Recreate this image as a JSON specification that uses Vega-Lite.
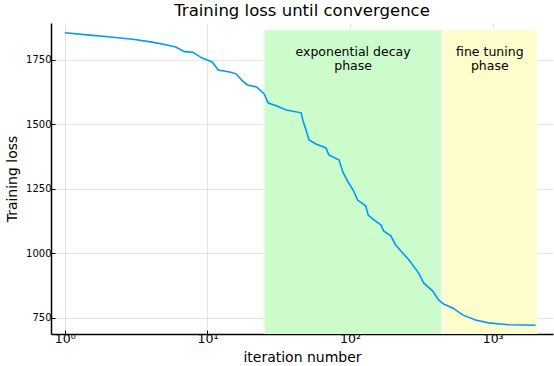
{
  "$schema": "https://vega.github.io/schema/vega-lite/v6.json",
  "width": 502,
  "height": 311,
  "autosize": {"type": "none"},
  "padding": {"left": 51, "top": 23, "right": 1, "bottom": 32},
  "background": "white",
  "config": {
    "font": "DejaVu Sans",
    "view": {"stroke": null},
    "axis": {"labelFont": "DejaVu Sans", "titleFont": "DejaVu Sans", "titleFontWeight": "normal", "labelColor": "#000000", "titleColor": "#000000"}
  },
  "title": {"text": "Training loss until convergence", "fontSize": 16.5, "fontWeight": "normal", "font": "DejaVu Sans", "color": "#000000", "offset": 4, "anchor": "middle"},
  "datasets": {
    "loss": [
      {"iter": 1, "loss": 1855},
      {"iter": 1.5, "loss": 1846},
      {"iter": 2, "loss": 1840},
      {"iter": 3, "loss": 1830},
      {"iter": 4, "loss": 1820},
      {"iter": 5, "loss": 1810},
      {"iter": 6, "loss": 1800},
      {"iter": 6.9, "loss": 1782},
      {"iter": 7.9, "loss": 1780},
      {"iter": 9.1, "loss": 1758},
      {"iter": 10.8, "loss": 1742},
      {"iter": 11.9, "loss": 1711},
      {"iter": 14.3, "loss": 1703},
      {"iter": 15.9, "loss": 1696},
      {"iter": 17.5, "loss": 1670},
      {"iter": 19.1, "loss": 1653},
      {"iter": 22.1, "loss": 1645},
      {"iter": 25, "loss": 1618},
      {"iter": 26.7, "loss": 1583},
      {"iter": 30.4, "loss": 1572},
      {"iter": 35.7, "loss": 1556},
      {"iter": 45.4, "loss": 1545},
      {"iter": 47, "loss": 1510},
      {"iter": 49, "loss": 1480},
      {"iter": 51.6, "loss": 1440},
      {"iter": 57.7, "loss": 1424},
      {"iter": 67.8, "loss": 1409},
      {"iter": 71, "loss": 1382},
      {"iter": 83.8, "loss": 1362},
      {"iter": 89, "loss": 1316},
      {"iter": 96.9, "loss": 1277},
      {"iter": 105, "loss": 1246},
      {"iter": 113, "loss": 1207},
      {"iter": 129, "loss": 1184},
      {"iter": 134, "loss": 1149},
      {"iter": 147, "loss": 1130},
      {"iter": 165, "loss": 1110},
      {"iter": 172, "loss": 1087},
      {"iter": 193, "loss": 1068},
      {"iter": 209, "loss": 1033},
      {"iter": 233, "loss": 1003},
      {"iter": 259, "loss": 975},
      {"iter": 303, "loss": 924},
      {"iter": 328, "loss": 886},
      {"iter": 379, "loss": 855},
      {"iter": 418, "loss": 820},
      {"iter": 453, "loss": 804},
      {"iter": 525, "loss": 789},
      {"iter": 616, "loss": 762},
      {"iter": 758, "loss": 742},
      {"iter": 936, "loss": 731},
      {"iter": 1294, "loss": 724},
      {"iter": 2000, "loss": 722}
    ],
    "phases": [
      {"start": 25, "end": 440, "top": 1866, "bottom": 600, "phase": "exp"},
      {"start": 448, "end": 2030, "top": 1866, "bottom": 600, "phase": "fine"}
    ],
    "labels": [
      {"x": 105, "y": 1780, "text": ["exponential decay", "phase"]},
      {"x": 955, "y": 1780, "text": ["fine tuning", "phase"]}
    ]
  },
  "layer": [
    {
      "data": {"name": "phases"},
      "mark": {"type": "rect", "clip": true, "strokeWidth": 1.5},
      "encoding": {
        "x": {"field": "start", "type": "quantitative", "scale": {"type": "log", "domain": [0.8, 2650], "nice": false, "zero": false}},
        "x2": {"field": "end"},
        "y": {"field": "bottom", "type": "quantitative", "scale": {"domain": [688, 1893], "nice": false, "zero": false}},
        "y2": {"field": "top"},
        "fill": {"field": "phase", "type": "nominal", "scale": {"domain": ["exp", "fine"], "range": ["#ccfccc", "#fffdcc"]}, "legend": null},
        "stroke": {"field": "phase", "type": "nominal", "scale": {"domain": ["exp", "fine"], "range": ["#e8fee8", "#fffee8"]}, "legend": null}
      }
    },
    {
      "data": {"name": "loss"},
      "mark": {"type": "line", "color": "#009af9", "strokeWidth": 1.6, "clip": true},
      "encoding": {
        "x": {
          "field": "iter", "type": "quantitative",
          "scale": {"type": "log", "domain": [0.8, 2650], "nice": false, "zero": false},
          "axis": {
            "title": "iteration number", "titleFontSize": 14, "titlePadding": 6,
            "values": [1, 10, 100, 1000],
            "labelExpr": "datum.value == 1 ? '10⁰' : datum.value == 10 ? '10¹' : datum.value == 100 ? '10²' : '10³'",
            "labelFontSize": 12.5, "labelPadding": 2,
            "tickSize": -4, "tickColor": "#000000", "domainColor": "#000000", "domainWidth": 1.5,
            "grid": true, "gridColor": "#000000", "gridOpacity": 0.1, "gridWidth": 1
          }
        },
        "y": {
          "field": "loss", "type": "quantitative",
          "scale": {"domain": [688, 1893], "nice": false, "zero": false},
          "axis": {
            "title": "Training loss", "titleFontSize": 14, "titlePadding": 6,
            "values": [750, 1000, 1250, 1500, 1750], "format": "d",
            "labelFontSize": 10, "labelPadding": 4,
            "tickSize": -4, "tickColor": "#000000", "domainColor": "#000000", "domainWidth": 1.5,
            "grid": true, "gridColor": "#000000", "gridOpacity": 0.1, "gridWidth": 1
          }
        }
      }
    },
    {
      "data": {"name": "labels"},
      "mark": {"type": "text", "fontSize": 12.5, "font": "DejaVu Sans", "color": "#000000", "align": "center", "baseline": "middle", "lineHeight": 14},
      "encoding": {
        "x": {"field": "x", "type": "quantitative", "scale": {"type": "log", "domain": [0.8, 2650], "nice": false, "zero": false}},
        "y": {"field": "y", "type": "quantitative", "scale": {"domain": [688, 1893], "nice": false, "zero": false}},
        "text": {"field": "text"}
      }
    }
  ]
}
